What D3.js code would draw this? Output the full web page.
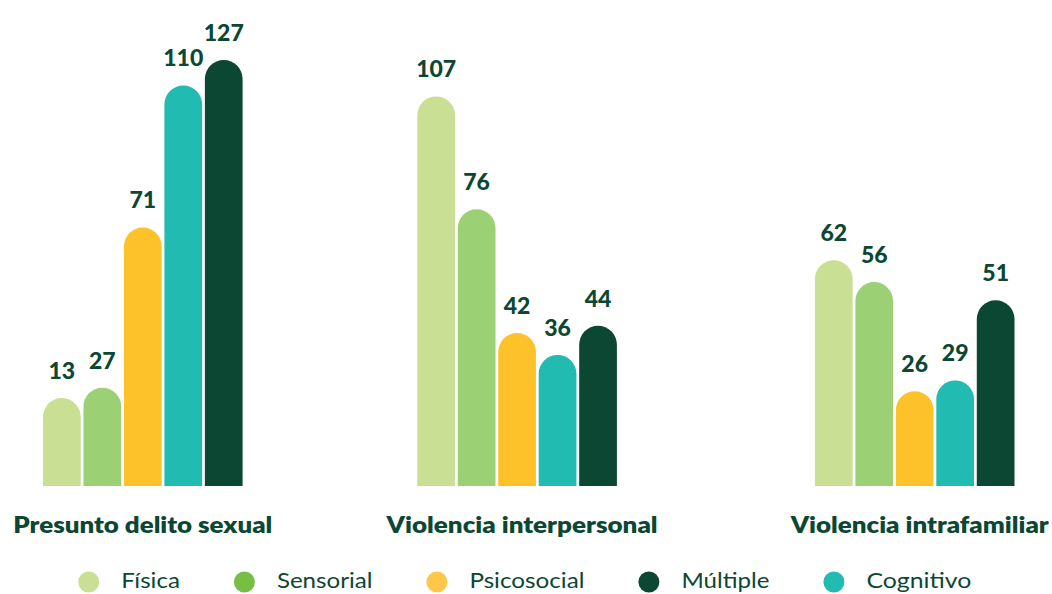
<!DOCTYPE html>
<html>
<head>
<meta charset="utf-8">
<script src="https://cdn.jsdelivr.net/npm/d3@7"></script>
<style>
  body { margin: 0; background: #fff; }
  text { font-family: Lato, 'Open Sans', sans-serif; fill: #0b4733; }
</style>
</head>
<body>
<svg id="chart" width="1052" height="594"></svg>
<script>
// data
const groups = ['Presunto delito sexual', 'Violencia interpersonal', 'Violencia intrafamiliar'];
const series = ['Física', 'Sensorial', 'Psicosocial', 'Cognitivo', 'Múltiple'];
const fisica = [13, 107, 62];
const sensorial = [27, 76, 56];
const psicosocial = [71, 42, 26];
const cognitivo = [110, 36, 29];
const multiple = [127, 44, 51];
const legendOrder = ['Física', 'Sensorial', 'Psicosocial', 'Múltiple', 'Cognitivo'];

const values = { 'Física': fisica, 'Sensorial': sensorial, 'Psicosocial': psicosocial, 'Cognitivo': cognitivo, 'Múltiple': multiple };

const barColor = d3.scaleOrdinal()
  .domain(series)
  .range(['#c9df94', '#9bd075', '#fdc22a', '#21bbb1', '#0b4733']);
// legend dot for Sensorial is a stronger green than its bars
const dotColor = d3.scaleOrdinal()
  .domain(series)
  .range(['#c9df94', '#77bf43', '#fdc84a', '#21bbb1', '#0b4733']);

const svg = d3.select('#chart');
const baseY = 486;
const minBarH = 88; // short bars are drawn with a minimum height

// groups are not evenly spaced in the original
const x0 = d3.scaleOrdinal().domain(groups).range([142.8, 517.1, 914.7]);
const x1 = d3.scaleBand().domain(series).range([-99.8, 99.8]).paddingInner(0.068);
// the tallest bar is cut down, so the scale clamps
const y = d3.scaleLinear().domain([0, 117]).range([baseY, 60]).clamp(true);

const bw = x1.bandwidth();
const r = bw / 2;

const roundTop = (x, top, w) =>
  `M${x},${baseY}L${x},${top + r}A${r},${r} 0 0 1 ${x + w},${top + r}L${x + w},${baseY}Z`;

const rows = [];
groups.forEach((g, i) => {
  series.forEach(s => {
    const v = values[s][i];
    const top = Math.min(y(v), baseY - minBarH);
    rows.push({ group: g, series: s, value: v, x: x0(g) + x1(s), top: top });
  });
});

const bars = svg.append('g').attr('class', 'bars');
bars.selectAll('path')
  .data(rows)
  .join('path')
  .attr('d', d => roundTop(d.x, d.top, bw))
  .attr('fill', d => barColor(d.series));

bars.selectAll('text')
  .data(rows)
  .join('text')
  .attr('x', d => d.x + bw / 2)
  .attr('y', d => d.top - 19)
  .attr('text-anchor', 'middle')
  .style('font-size', '23px')
  .style('font-weight', 900)
  .text(d => d.value);

// group labels
const labelWidths = [259, 271, 258];
svg.append('g')
  .selectAll('text')
  .data(groups)
  .join('text')
  .attr('x', (d, i) => x0(d) + (i === 0 ? 0 : 5))
  .attr('y', 533)
  .attr('text-anchor', 'middle')
  .attr('textLength', (d, i) => labelWidths[i])
  .attr('lengthAdjust', 'spacingAndGlyphs')
  .style('font-size', '23px')
  .style('font-weight', 800)
  .text(d => d);

// legend
const legendWidths = [58.7, 95.5, 115, 88, 105];
const legend = svg.append('g').attr('class', 'legend');
let cx = 88.7;
legendOrder.forEach((s, i) => {
  legend.append('circle')
    .attr('cx', cx)
    .attr('cy', 582)
    .attr('r', 10.5)
    .attr('fill', dotColor(s));
  legend.append('text')
    .attr('x', cx + 32.5)
    .attr('y', 588)
    .attr('textLength', legendWidths[i])
    .attr('lengthAdjust', 'spacingAndGlyphs')
    .style('font-size', '22px')
    .style('font-weight', 400)
    .text(s);
  cx += 32.5 + legendWidths[i] + 64.5;
});
</script>
</body>
</html>
